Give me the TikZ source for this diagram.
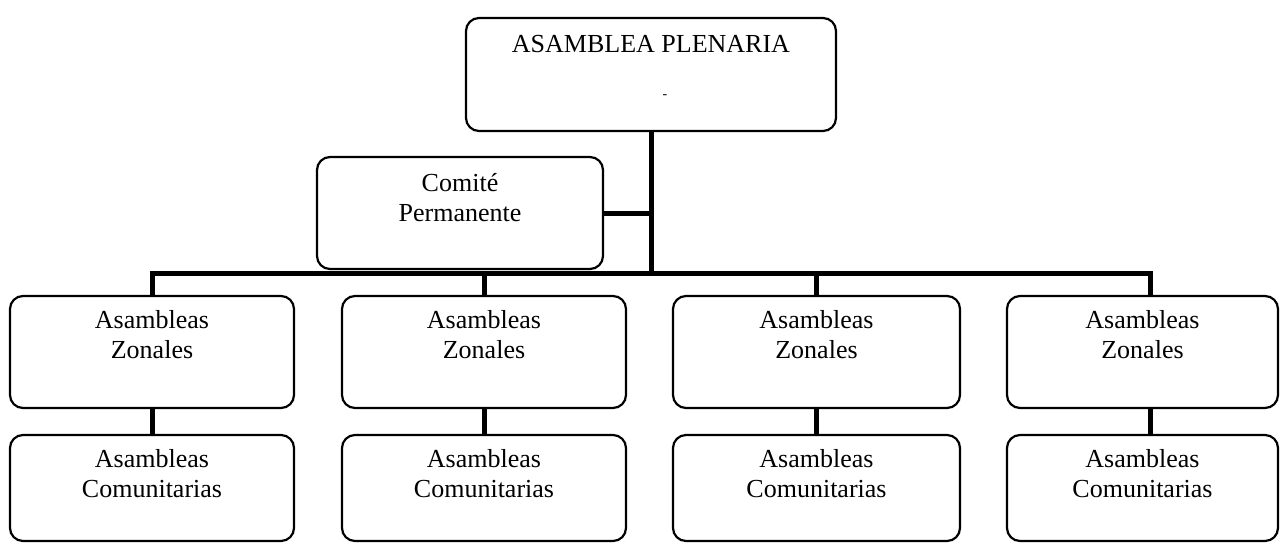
\documentclass[tikz,border=0pt]{standalone}
\usepackage{fontspec}
\setmainfont{Liberation Serif}
\newcommand{\boxtxt}[4]{\parbox[c][#2pt][t]{#1pt}{\centering\rule{0pt}{#3pt}#4}}
\begin{document}
\begin{tikzpicture}[x=1pt,y=-1pt,
  box/.style={draw, line width=2.2pt, rounded corners=13pt, inner sep=0pt, outer sep=0pt, font=\fontsize{26}{30}\selectfont},
  link/.style={line width=5pt}]
\useasboundingbox (0,0) rectangle (1280,543);
% top
\node[box] (top) at (651,74.5) {\boxtxt{370}{113}{35}{ASAMBLEA PLENARIA}};
\node[font=\fontsize{14}{14}\selectfont, inner sep=0pt] (mark) at (665,97) {-};
\node[box] (comite) at (460,213) {\boxtxt{286}{112}{34}{Comité\\Permanente}};
% zonales
\node[box] (z1) at (152,352) {\boxtxt{284}{112}{32}{Asambleas\\Zonales}};
\node[box] (z2) at (484,352) {\boxtxt{284}{112}{32}{Asambleas\\Zonales}};
\node[box] (z3) at (816.5,352) {\boxtxt{287}{112}{32}{Asambleas\\Zonales}};
\node[box] (z4) at (1142.5,352) {\boxtxt{271}{112}{32}{Asambleas\\Zonales}};
% comunitarias
\node[box] (c1) at (152,488) {\boxtxt{284}{106}{32}{Asambleas\\Comunitarias}};
\node[box] (c2) at (484,488) {\boxtxt{284}{106}{32}{Asambleas\\Comunitarias}};
\node[box] (c3) at (816.5,488) {\boxtxt{287}{106}{32}{Asambleas\\Comunitarias}};
\node[box] (c4) at (1142.5,488) {\boxtxt{271}{106}{32}{Asambleas\\Comunitarias}};
% connectors
\coordinate (busL) at (152,273);
\draw[link] (top.south) -- (top.south |- busL);
\draw[link] (comite.east) -- (comite.east -| top.south);
\draw[link] (z1.north) -- (z1.north |- busL) -- ([xshift=7.5pt]z4.north |- busL) -- ([xshift=7.5pt]z4.north);
\draw[link] (z2.north) -- (z2.north |- busL);
\draw[link] (z3.north) -- (z3.north |- busL);
\draw[link] (z1.south) -- (c1.north);
\draw[link] (z2.south) -- (c2.north);
\draw[link] (z3.south) -- (c3.north);
\draw[link] ([xshift=7.5pt]z4.south) -- ([xshift=7.5pt]c4.north);
\end{tikzpicture}
\end{document}
